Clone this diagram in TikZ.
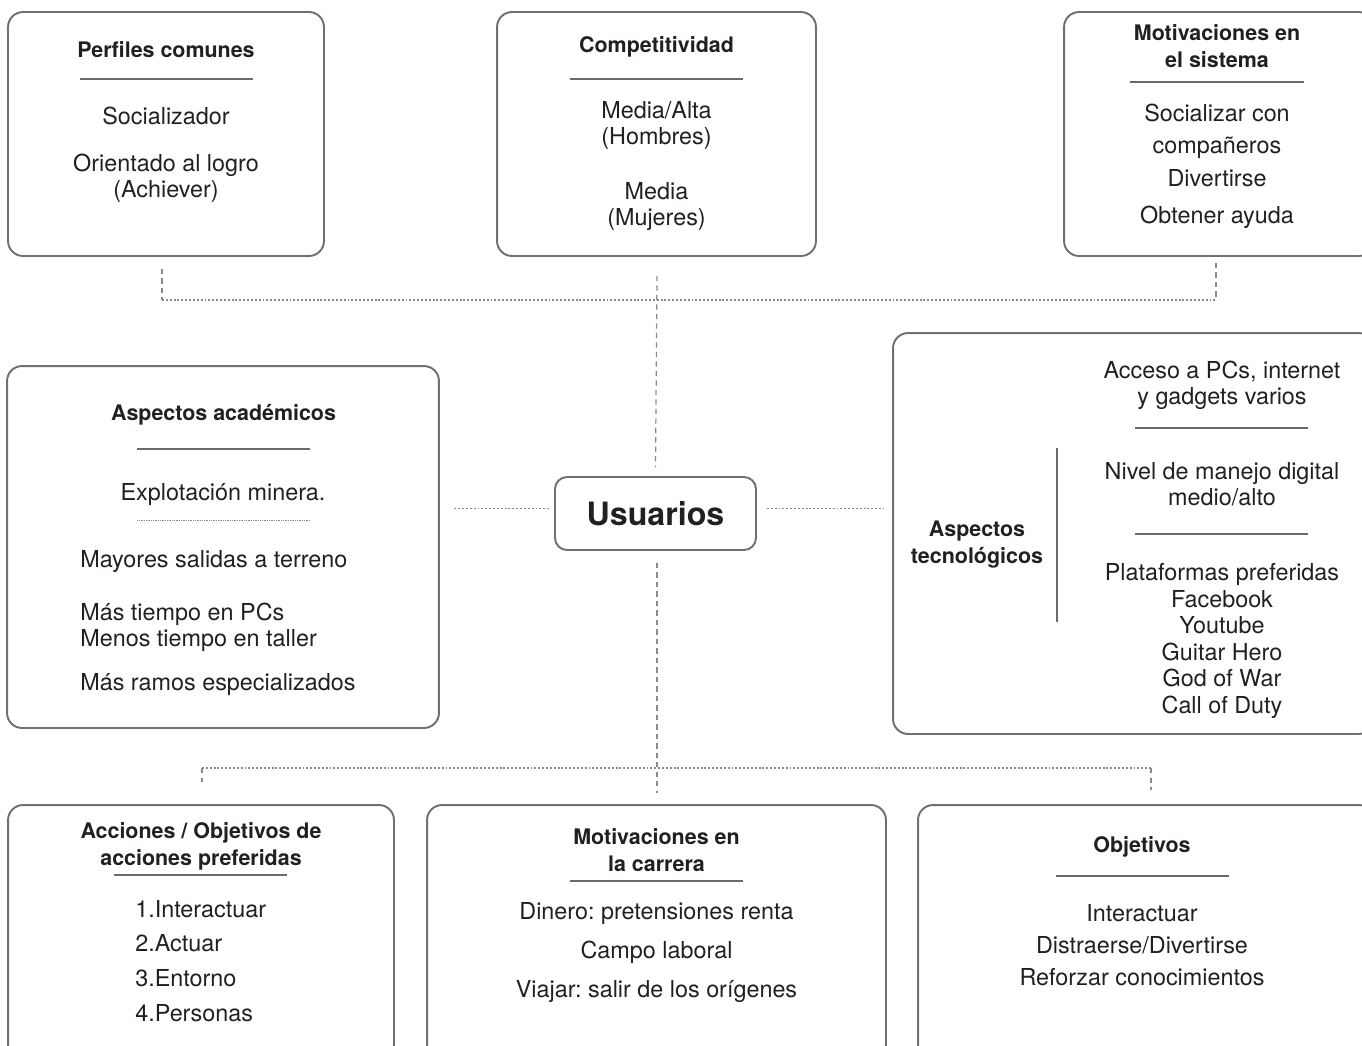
\documentclass[tikz,border=0pt]{standalone}
\usepackage{fontspec}
\setmainfont{TeX Gyre Heros}
\frenchspacing
\begin{document}
\definecolor{ink}{HTML}{231F20}
\definecolor{frame}{HTML}{707070}
\definecolor{rule}{HTML}{6A6A6A}
\definecolor{link}{HTML}{8A8A8A}
\begin{tikzpicture}[x=0.02cm,y=-0.02cm,
  box/.style={draw=frame,line width=1.1pt,rounded corners=0.3cm,inner sep=0pt},
  hub/.style={box,rounded corners=0.24cm,font=\bfseries\fontsize{18.3}{22}\selectfont,text=ink},
  head/.style={inner sep=0pt,anchor=base,align=center,text=ink,font=\bfseries\fontsize{12.2}{15.1}\selectfont},
  item/.style={inner sep=0pt,anchor=base,align=center,text=ink,font=\fontsize{13.3}{14.8}\selectfont},
  itemw/.style={item,anchor=base west,align=left},
  sep/.style={draw=rule,line width=0.8pt},
  finesep/.style={draw=link,line width=0.5pt,dash pattern=on 0.45pt off 0.55pt},
  hdot/.style={draw=link,line width=0.9pt,dash pattern=on 1.1pt off 1.1pt},
  vdash/.style={draw=link,line width=0.7pt,dash pattern=on 3pt off 2.4pt}]

\useasboundingbox (0,0) rectangle (1362,1045);
\clip (0,0) rectangle (1362,1045);

% multi-line texts are placed by the baseline of their last line

% ---- top row of boxes ----
\node[box,minimum width=6.32cm,minimum height=4.88cm] (perfiles) at (166,134) {};
\node[head] (perfilesT) at (166,57.5) {Perfiles comunes};
\draw[sep] (80,79) -- (253,79);
\node[item] (perfiles1) at (166,124) {Socializador};
\node[item] (perfiles2) at (166,197) {Orientado al logro\\(Achiever)};

\node[box,minimum width=6.38cm,minimum height=4.88cm] (compet) at (656.5,134) {};
\node[head] (competT) at (656.5,52.5) {Competitividad};
\draw[sep] (570,79) -- (743,79);
\node[item] (compet1) at (656.5,144) {Media/Alta\\(Hombres)};
\node[item] (compet2) at (656.5,225) {Media\\(Mujeres)};

\node[box,minimum width=6.2cm,minimum height=4.88cm] (motsis) at (1219,134) {};
\node[head] (motsisT) at (1217,67.5) {Motivaciones en\\el sistema};
\draw[sep] (1130,82) -- (1304,82);
\node[item] (motsis1) at (1217,121) {Socializar con};
\node[item] (motsis2) at (1217,153) {compañeros};
\node[item] (motsis3) at (1217,186) {Divertirse};
\node[item] (motsis4) at (1217,223) {Obtener ayuda};

% ---- centre ----
\node[hub,minimum width=4.02cm,minimum height=1.46cm] (usuarios) at (655.5,513.5) {Usuarios};

% ---- academic aspects ----
\node[box,minimum width=8.64cm,minimum height=7.24cm] (academ) at (223,547) {};
\node[head] (academT) at (223.5,420.5) {Aspectos académicos};
\draw[sep] (137,449) -- (310,449);
\node[item] (academ1) at (223,500) {Explotación minera.};
\draw[finesep] (137,520) -- (310,520);
\node[itemw] (academ2) at (80,567) {Mayores salidas a terreno};
\node[itemw] (academ3) at (80,646) {Más tiempo en PCs\\Menos tiempo en taller};
\node[itemw] (academ4) at (80,690) {Más ramos especializados};

% ---- technological aspects ----
\node[box,minimum width=9.62cm,minimum height=8.02cm] (tecno) at (1133.5,533.5) {};
\node[head] (tecnoT) at (977,563.5) {Aspectos\\tecnológicos};
\draw[sep] (1057,448) -- (1057,622);
\node[item] (tecno1) at (1222,404) {Acceso a PCs, internet\\y gadgets varios};
\draw[sep] (1135,428) -- (1308,428);
\node[item] (tecno2) at (1222,505) {Nivel de manejo digital\\medio/alto};
\draw[sep] (1135,534) -- (1308,534);
\node[item,font=\fontsize{13.3}{15.08}\selectfont] (tecno3) at (1222,713)
  {Plataformas preferidas\\Facebook\\Youtube\\Guitar Hero\\God of War\\Call of Duty};

% ---- bottom row of boxes ----
\node[box,minimum width=7.72cm,minimum height=5.1cm] (acciones) at (201,932.5) {};
\node[head] (accionesT) at (201,865.5) {Acciones / Objetivos de\\acciones preferidas};
\draw[sep] (114,875) -- (287,875);
\node[itemw] (acciones1) at (135,917) {1.Interactuar};
\node[itemw] (acciones2) at (135,951) {2.Actuar};
\node[itemw] (acciones3) at (135,986) {3.Entorno};
\node[itemw] (acciones4) at (135,1021) {4.Personas};

\node[box,minimum width=9.18cm,minimum height=5.1cm] (carrera) at (656.5,932.5) {};
\node[head] (carreraT) at (656.5,871.5) {Motivaciones en\\la carrera};
\draw[sep] (570,881) -- (743,881);
\node[item] (carrera1) at (656.5,919) {Dinero: pretensiones renta};
\node[item] (carrera2) at (656.5,958) {Campo laboral};
\node[item] (carrera3) at (656.5,997) {Viajar: salir de los orígenes};

\node[box,minimum width=9.12cm,minimum height=5.1cm] (objetivos) at (1146,932.5) {};
\node[head] (objetivosT) at (1142,852.5) {Objetivos};
\draw[sep] (1056,876) -- (1229,876);
\node[item] (objetivos1) at (1142,921) {Interactuar};
\node[item] (objetivos2) at (1142,953) {Distraerse/Divertirse};
\node[item] (objetivos3) at (1142,985) {Reforzar conocimientos};

% ---- connectors ----
\coordinate (tl) at (162,300);
\coordinate (tr) at (1216,300);
\coordinate (bl) at (202,768);
\coordinate (br) at (1151,768);

\draw[vdash] (perfiles.south -| tl) ++(0,12) -- (tl);
\draw[vdash] (motsis.south -| tr) ++(0,6) -- (tr);
\draw[hdot] (tl) -- (tr);
\draw[vdash] (compet.south) ++(0.5,19) -- ([yshift=5pt]usuarios.north);

\draw[hdot] (usuarios.west) ++(-5,-5) -- ++(-96,0);
\draw[hdot] (usuarios.east) ++(10,-5) -- ++(116,0);

\draw[vdash] (usuarios.south) ++(1.5,12) -- ++(0,230);
\draw[hdot] (bl) -- (br);
\draw[vdash] (bl) -- ++(0,14);
\draw[vdash] (br) -- ++(0,22);
\end{tikzpicture}
\end{document}
